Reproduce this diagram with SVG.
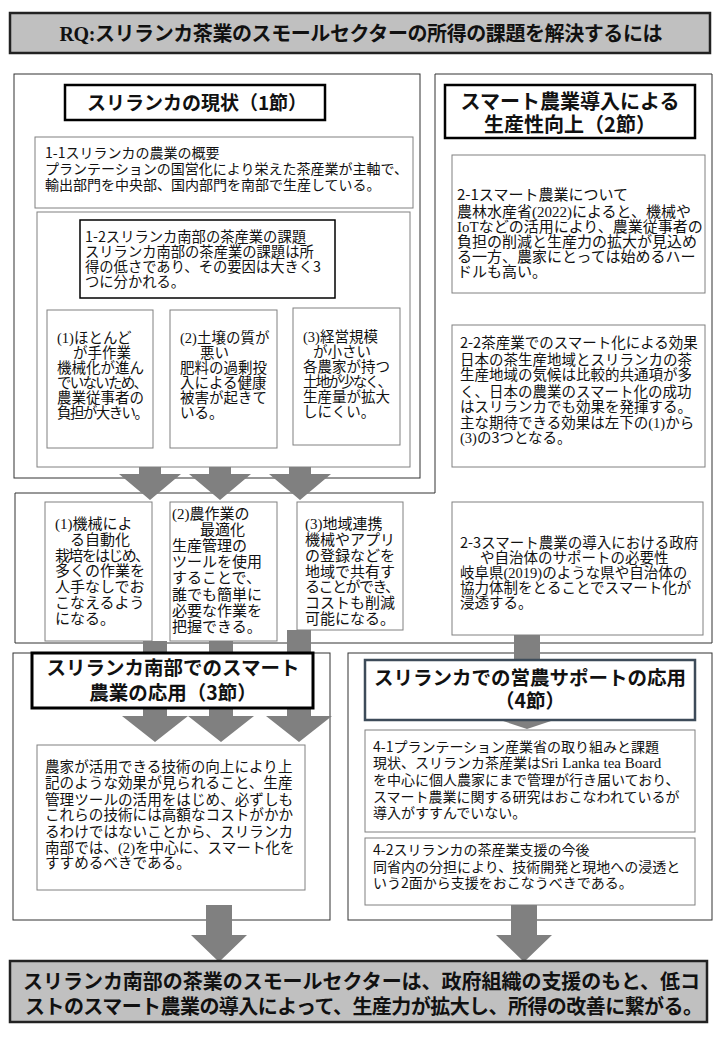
<svg xmlns="http://www.w3.org/2000/svg" width="720" height="1040" viewBox="0 0 720 1040">
<style>
.t{font-family:"Noto Sans CJK JP","Noto Sans CJK SC",sans-serif;font-size:14px;fill:#111}
.f15{font-size:15px}
.f145{font-size:14.5px}
.h{font-family:"Noto Sans CJK JP","Noto Sans CJK SC",sans-serif;font-weight:700;font-size:20px;fill:#111;text-anchor:middle}
.s{font-family:"Liberation Serif",serif}
.box{fill:#fff;stroke:#808080;stroke-width:1}
.hb{fill:#fff;stroke:#000;stroke-width:2.5}
.sec{fill:none;stroke:#333;stroke-width:1}
.arr{fill:#808080}
.gray{fill:#c0c0c0;stroke:#222;stroke-width:2.5}
</style>

<g id="title">
<rect class="gray" x="10" y="13" width="700" height="40"/>
<text class="h" x="361" y="41" textLength="603"><tspan class="s">RQ:</tspan>スリランカ茶業のスモールセクターの所得の課題を解決するには</text>
</g>

<g id="frames">
<rect class="sec" x="14" y="74" width="406" height="404" stroke="#555"/>
<path class="sec" d="M435,74 H712 V643 H15 V493 H435 Z"/>
<rect class="sec" x="13" y="653" width="317" height="267" stroke="#000"/>
<rect class="sec" x="348" y="653" width="364" height="267" stroke="#000"/>
</g>

<g id="connectors">
<polygon class="arr" points="139,448 161,448 161,474 181,474 150,500 119,474 139,474"/>
<polygon class="arr" points="209,448 231,448 231,474 251,474 220,500 189,474 209,474"/>
<polygon class="arr" points="289,445 311,445 311,474 331,474 300,500 269,474 289,474"/>
<polygon class="arr" points="143,641 167,641 167,716 188,716 155,742 122,716 143,716"/>
<polygon class="arr" points="209,641 233,641 233,716 254,716 221,742 188,716 209,716"/>
<polygon class="arr" points="287,630 311,630 311,716 332,716 299,742 266,716 287,716"/>
<polygon class="arr" points="514,635 540,635 540,719 557,719 527,729 497,719 514,719"/>
<polygon class="arr" fill="#7a7a7a" points="206,905 232,905 232,935 247,935 219,962 191,935 206,935"/>
<polygon class="arr" fill="#7a7a7a" points="511,905 537,905 537,935 552,935 524,962 496,935 511,935"/>
</g>

<g id="s1-header">
<rect class="hb" x="65" y="85" width="260" height="35"/>
<text class="h" x="197" y="110" style="font-size:19px">スリランカの現状（1節）</text>
</g>

<g id="n1-1">
<rect class="box" x="35" y="137" width="378" height="71"/>
<text class="t"><tspan x="45" y="158">1-1スリランカの農業の概要</tspan><tspan x="45" y="174">プランテーションの国営化により栄えた茶産業が主軸で、</tspan><tspan x="45" y="190">輸出部門を中央部、国内部門を南部で生産している。</tspan></text>
</g>

<g id="n1-2">
<rect class="box" x="37" y="212" width="373" height="255"/>
<rect x="80" y="220" width="255" height="78" fill="#fff" stroke="#000" stroke-width="1.5"/>
<text class="t" style="font-size:14.3px"><tspan x="85" y="242">1-2スリランカ南部の茶産業の課題</tspan><tspan x="85" y="257">スリランカ南部の茶産業の課題は所</tspan><tspan x="85" y="272">得の低さであり、その要因は大きく3</tspan><tspan x="85" y="287">つに分かれる。</tspan></text>
</g>

<g id="cause1">
<rect class="box" x="47" y="310" width="106" height="138"/>
<text class="t f145"><tspan x="57" y="343"><tspan class="s">(1)</tspan>ほとんど</tspan><tspan x="73" y="358">が手作業</tspan><tspan x="57" y="373">機械化が進ん</tspan><tspan x="57" y="388" textLength="91">でいないため、</tspan><tspan x="57" y="403">農業従事者の</tspan><tspan x="57" y="418" textLength="92">負担が大きい。</tspan></text>
</g>
<g id="cause2">
<rect class="box" x="170" y="310" width="107" height="138"/>
<text class="t f145"><tspan x="180" y="343"><tspan class="s">(2)</tspan>土壌の質が</tspan><tspan x="200" y="358">悪い</tspan><tspan x="180" y="373">肥料の過剰投</tspan><tspan x="180" y="388">入による健康</tspan><tspan x="180" y="403">被害が起きて</tspan><tspan x="180" y="418">いる。</tspan></text>
</g>
<g id="cause3">
<rect class="box" x="293" y="308" width="107" height="137"/>
<text class="t f145"><tspan x="303" y="342"><tspan class="s">(3)</tspan>経営規模</tspan><tspan x="313" y="357">が小さい</tspan><tspan x="303" y="372">各農家が持つ</tspan><tspan x="303" y="387" textLength="89">土地が少なく、</tspan><tspan x="303" y="402">生産量が拡大</tspan><tspan x="303" y="417">しにくい。</tspan></text>
</g>

<g id="effect1">
<rect class="box" x="45" y="502" width="107" height="139"/>
<text class="t f15"><tspan x="55" y="529"><tspan class="s">(1)</tspan>機械によ</tspan><tspan x="70" y="545">る自動化</tspan><tspan x="55" y="561" textLength="95">栽培をはじめ、</tspan><tspan x="55" y="576">多くの作業を</tspan><tspan x="55" y="592">人手なしでお</tspan><tspan x="55" y="608">こなえるよう</tspan><tspan x="55" y="624">になる。</tspan></text>
</g>
<g id="effect2">
<rect class="box" x="170" y="502" width="107" height="139"/>
<text class="t f15"><tspan x="172" y="519"><tspan class="s">(2)</tspan>農作業の</tspan><tspan x="200" y="535">最適化</tspan><tspan x="172" y="551">生産管理の</tspan><tspan x="172" y="567">ツールを使用</tspan><tspan x="172" y="583">することで、</tspan><tspan x="172" y="600">誰でも簡単に</tspan><tspan x="172" y="616">必要な作業を</tspan><tspan x="172" y="632">把握できる。</tspan></text>
</g>
<g id="effect3">
<rect class="box" x="297" y="502" width="106" height="128"/>
<text class="t f15"><tspan x="305" y="529"><tspan class="s">(3)</tspan>地域連携</tspan><tspan x="305" y="545">機械やアプリ</tspan><tspan x="305" y="561">の登録などを</tspan><tspan x="305" y="577">地域で共有す</tspan><tspan x="305" y="592" textLength="95">ることができ、</tspan><tspan x="305" y="608">コストも削減</tspan><tspan x="305" y="624">可能になる。</tspan></text>
</g>

<g id="s2-header">
<rect class="hb" x="445" y="85" width="250" height="53"/>
<text class="h"><tspan x="570" y="109">スマート農業導入による</tspan><tspan x="570" y="132">生産性向上（2節）</tspan></text>
</g>

<g id="n2-1">
<rect class="box" x="452" y="155" width="253" height="138"/>
<text class="t f15"><tspan x="457" y="200">2-1スマート農業について</tspan><tspan x="457" y="217">農林水産省<tspan class="s">(2022)</tspan>によると、機械や</tspan><tspan x="457" y="232"><tspan class="s">IoT</tspan>などの活用により、農業従事者の</tspan><tspan x="457" y="247">負担の削減と生産力の拡大が見込め</tspan><tspan x="457" y="262">る一方、農家にとっては始めるハー</tspan><tspan x="457" y="277">ドルも高い。</tspan></text>
</g>

<g id="n2-2">
<rect class="box" x="452" y="325" width="253" height="142"/>
<text class="t f145"><tspan x="460" y="348">2-2茶産業でのスマート化による効果</tspan><tspan x="460" y="365">日本の茶生産地域とスリランカの茶</tspan><tspan x="460" y="380">生産地域の気候は比較的共通項が多</tspan><tspan x="460" y="397">く、日本の農業のスマート化の成功</tspan><tspan x="460" y="412">はスリランカでも効果を発揮する。</tspan><tspan x="460" y="428">主な期待できる効果は左下の<tspan class="s">(1)</tspan>から</tspan><tspan x="460" y="443"><tspan class="s">(3)</tspan>の3つとなる。</tspan></text>
</g>

<g id="n2-3">
<rect class="box" x="452" y="502" width="251" height="133"/>
<text class="t f145"><tspan x="460" y="548">2-3スマート農業の導入における政府</tspan><tspan x="480" y="563">や自治体のサポートの必要性</tspan><tspan x="460" y="578">岐阜県<tspan class="s">(2019)</tspan>のような県や自治体の</tspan><tspan x="460" y="593">協力体制をとることでスマート化が</tspan><tspan x="460" y="608">浸透する。</tspan></text>
</g>

<g id="s3-header">
<rect x="32" y="653" width="281" height="55" fill="#fff" stroke="#000" stroke-width="3"/>
<text class="h" style="font-size:19.5px"><tspan x="173" y="675">スリランカ南部でのスマート</tspan><tspan x="173" y="700">農業の応用（3節）</tspan></text>
</g>

<g id="n3">
<rect class="box" x="37" y="745" width="268" height="145"/>
<text class="t" style="font-size:14.6px"><tspan x="45" y="772">農家が活用できる技術の向上により上</tspan><tspan x="45" y="788">記のような効果が見られること、生産</tspan><tspan x="45" y="805">管理ツールの活用をはじめ、必ずしも</tspan><tspan x="45" y="820">これらの技術には高額なコストがかか</tspan><tspan x="45" y="837">るわけではないことから、スリランカ</tspan><tspan x="45" y="853">南部では、<tspan class="s">(2)</tspan>を中心に、スマート化を</tspan><tspan x="45" y="868">すすめるべきである。</tspan></text>
</g>

<g id="s4-header">
<rect x="365" y="660" width="330" height="60" fill="#fff" stroke="#3d4b59" stroke-width="2.5"/>
<text class="h" style="font-size:19.5px"><tspan x="530" y="685">スリランカでの営農サポートの応用</tspan><tspan x="530" y="708">（4節）</tspan></text>
</g>

<g id="n4-1">
<rect class="box" x="365" y="730" width="330" height="102"/>
<text class="t"><tspan x="373" y="752">4-1プランテーション産業省の取り組みと課題</tspan><tspan x="373" y="768">現状、スリランカ茶産業は<tspan class="s" style="font-size:15px">Sri Lanka tea Board</tspan></tspan><tspan x="373" y="785">を中心に個人農家にまで管理が行き届いており、</tspan><tspan x="373" y="802">スマート農業に関する研究はおこなわれているが</tspan><tspan x="373" y="818">導入がすすんでいない。</tspan></text>
</g>

<g id="n4-2">
<rect class="box" x="365" y="838" width="330" height="67"/>
<text class="t"><tspan x="373" y="855">4-2スリランカの茶産業支援の今後</tspan><tspan x="373" y="872">同省内の分担により、技術開発と現地への浸透と</tspan><tspan x="373" y="888">いう2面から支援をおこなうべきである。</tspan></text>
</g>

<g id="conclusion">
<rect class="gray" x="10" y="961" width="697" height="61"/>
<text class="t" style="font-size:20px;font-weight:700"><tspan x="23" y="989" textLength="677">スリランカ南部の茶業のスモールセクターは、政府組織の支援のもと、低コ</tspan><tspan x="25" y="1014" textLength="678">ストのスマート農業の導入によって、生産力が拡大し、所得の改善に繋がる。</tspan></text>
</g>
</svg>
